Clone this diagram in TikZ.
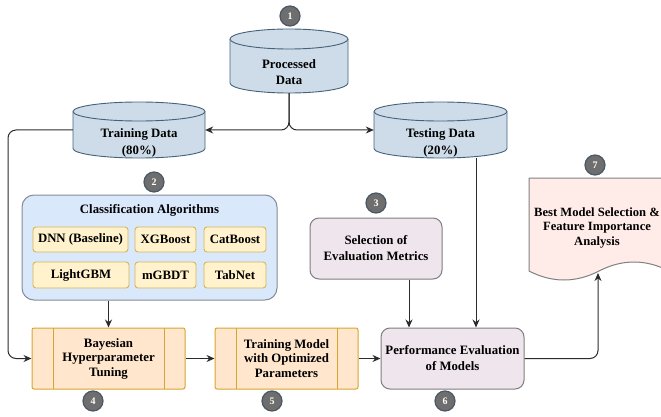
\documentclass[tikz,border=0pt]{standalone}
\usepackage{fontspec}
\setmainfont{Liberation Serif}
\usetikzlibrary{arrows.meta}
\definecolor{cylfill}{HTML}{CDDCE8}
\definecolor{cylline}{HTML}{46627A}
\definecolor{clsfill}{HTML}{DAE8FC}
\definecolor{clsline}{HTML}{858D96}
\definecolor{yelfill}{HTML}{FFF2CC}
\definecolor{yelline}{HTML}{D6B656}
\definecolor{orfill}{HTML}{FFE6CC}
\definecolor{orline}{HTML}{D8A430}
\definecolor{purfill}{HTML}{EFE5EC}
\definecolor{purline}{HTML}{7E7E7E}
\definecolor{docfill}{HTML}{FFECE9}
\definecolor{docline}{HTML}{808080}
\definecolor{badgefill}{HTML}{6E6E6E}
\definecolor{badgeline}{HTML}{4A5866}
\definecolor{linec}{HTML}{2B2B2B}
\newcommand\dbcyl[5]{% cx, ytop, ybot, hw, ry
  \path[cyl] (#1-#4,#2+#5) -- (#1-#4,#3-#5)
    arc[start angle=180,end angle=360,x radius=#4pt,y radius=#5pt]
    -- (#1+#4,#2+#5)
    arc[start angle=0,end angle=180,x radius=#4pt,y radius=#5pt] -- cycle;
  \draw[cyl, fill=none] (#1-#4,#2+#5)
    arc[start angle=180,end angle=360,x radius=#4pt,y radius=#5pt];
}
\tikzset{
  every node/.style={font=\fontsize{12.8}{16}\selectfont\bfseries, align=center},
  badge/.style={circle, fill=badgefill, draw=badgeline, line width=1.2pt,
    minimum size=20pt, inner sep=0pt, text=white,
    font=\fontsize{10}{10}\selectfont\bfseries},
  cyl/.style={fill=cylfill, draw=cylline, line width=0.9pt},
  anchorbox/.style={draw=none, inner sep=0pt},
  clsbox/.style={draw=clsline, fill=clsfill, line width=1pt, rounded corners=12pt, inner sep=0pt},
  algo/.style={draw=yelline, fill=yelfill, rounded corners=3pt, line width=0.9pt,
    minimum height=25pt, inner sep=0pt},
  proc/.style={draw=orline, fill=orfill, line width=1pt, rounded corners=2pt,
    minimum width=#1, minimum height=61pt, inner sep=0pt,
    font=\fontsize{12.8}{14.5}\selectfont\bfseries,
    path picture={\draw[orline, line width=1pt]
      ([xshift=21pt]path picture bounding box.north west) -- ([xshift=21pt]path picture bounding box.south west)
      ([xshift=-21pt]path picture bounding box.north east) -- ([xshift=-21pt]path picture bounding box.south east);}},
  purp/.style={draw=purline, fill=purfill, line width=1pt, rounded corners=9pt, inner sep=0pt},
  arr/.style={draw=linec, line width=1pt, -{Stealth[length=8pt,width=7pt]}},
}
\begin{document}
\begin{tikzpicture}[x=1pt,y=-1pt]
\useasboundingbox (0,0) rectangle (661,417);

% cylinders
\dbcyl{289}{29}{93}{59}{10}
\node[anchorbox, minimum width=118pt, minimum height=64pt] (pdc) at (289,61) {};
\node (pdt) at (289,72.5) {Processed\\Data};

\dbcyl{139}{102}{158}{66}{9.5}
\node[anchorbox, minimum width=132pt, minimum height=56pt] (tdc) at (139,130) {};
\node[font=\fontsize{12.8}{17}\selectfont\bfseries] (tdt) at (139,142.5) {Training Data\\(80\%)};

\dbcyl{440.5}{102}{158}{66.5}{9.5}
\node[anchorbox, minimum width=133pt, minimum height=56pt] (tsc) at (440.5,130) {};
\node[font=\fontsize{12.8}{17}\selectfont\bfseries] (tst) at (440.5,142.5) {Testing Data\\(20\%)};

% classification algorithms
\node[clsbox, minimum width=255pt, minimum height=105pt] (cls) at (149.5,247.5) {};
\node (clst) at (149.5,210.5) {Classification Algorithms};
\node[algo, minimum width=95pt] (dnn) at (80.5,239.5) {DNN (Baseline)};
\node[algo, minimum width=61pt] (xgb) at (165.5,239.5) {XGBoost};
\node[algo, minimum width=62pt] (cat) at (235,239.5) {CatBoost};
\node[algo, minimum width=96pt, minimum height=26pt] (lgb) at (81,275) {LightGBM};
\node[algo, minimum width=61pt, minimum height=26pt] (mgb) at (165.5,275) {mGBDT};
\node[algo, minimum width=62pt, minimum height=26pt] (tab) at (235,275) {TabNet};

% process boxes
\node[proc=153pt] (bay) at (108.5,358.5) {Bayesian\\Hyperparameter\\Tuning};
\node[proc=143pt] (tm) at (286.5,358.5) {Training Model\\with Optimized\\Parameters};

% evaluation
\node[purp, minimum width=132pt, minimum height=61pt] (sel) at (376,248.5) {Selection of\\Evaluation Metrics};
\node[purp, minimum width=143pt, minimum height=61pt] (perf) at (452.5,358.5) {Performance Evaluation\\of Models};

% document
\path[fill=docfill, draw=docline, line width=1pt]
  (529,178) -- (669,178) -- (669,271)
  .. controls (645.7,259) and (622.3,259) .. (599,271)
  .. controls (575.7,283) and (552.3,283) .. (529,271) -- cycle;
\node[font=\fontsize{12.6}{14.5}\selectfont\bfseries] (doct) at (597,227.5) {Best Model Selection \&\\Feature Importance\\Analysis};

% badges
\node[badge] (b1) at (290,16) {1};
\node[badge] (b2) at (154,182) {2};
\node[badge] (b3) at (376,203) {3};
\node[badge] (b4) at (93,401) {4};
\node[badge] (b5) at (272,401) {5};
\node[badge] (b6) at (445,401) {6};
\node[badge] (b7) at (595,165) {7};

% connectors
\draw[arr, rounded corners=8pt] (pdc.south) |- (tdc.east);
\draw[arr, rounded corners=8pt] (pdc.south) |- (tsc.west);
\coordinate (lbend) at (8,130);
\draw[arr, rounded corners=8pt] (tdc.west) -- (lbend) |- (bay.west);
\draw[arr] (bay.north |- cls.south) -- (bay.north);
\draw[arr] (bay.east) -- (tm.west);
\draw[arr] (tm.east) -- (perf.west);
\coordinate (selout) at ([xshift=33pt]sel.south);
\draw[arr] (selout) -- (selout |- perf.north);
\coordinate (tsout) at ([xshift=35.5pt]tsc.south);
\draw[arr] (tsout) -- (tsout |- perf.north);
\coordinate (dtip) at (598,273);
\draw[arr, rounded corners=8pt] (perf.east) -| (dtip);
\end{tikzpicture}
\end{document}
